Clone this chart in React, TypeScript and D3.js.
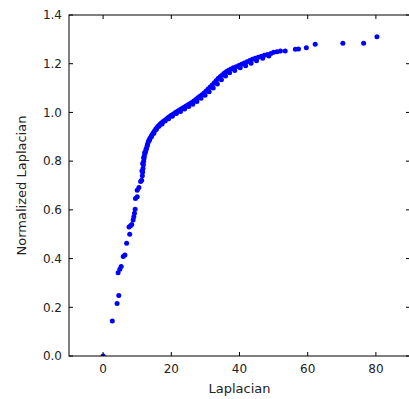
import React from "react";
import * as d3 from "d3";

const W = 409;
const H = 399;

const xTicks = [0, 20, 40, 60, 80];
const yTicks = [0.0, 0.2, 0.4, 0.6, 0.8, 1.0, 1.2, 1.4];

// sparse low section (Laplacian, Normalized Laplacian)
const lowX = [0, 2.7, 4.1, 4.6, 4.4, 4.9, 5.3, 5.9, 6.4, 6.9, 7.8, 7.6, 8.05, 8.4, 8.8, 9.0, 9.2, 9.4, 9.5, 10.0, 10.0, 10.5, 11.0, 11.3];
const lowY = [0, 0.144, 0.216, 0.248, 0.342, 0.356, 0.367, 0.408, 0.415, 0.463, 0.5, 0.53, 0.535, 0.54, 0.558, 0.572, 0.586, 0.602, 0.647, 0.654, 0.681, 0.692, 0.716, 0.722];

// dense middle section
const midX = [11.5, 11.6, 11.7, 11.8, 11.9, 12.0, 12.1, 12.3, 12.5, 12.7, 12.9, 13.1, 13.3, 13.5, 13.8, 14.1, 14.4, 14.7, 15.0, 15.4, 15.8, 16.2, 16.6, 17.0, 17.5, 18.0, 18.5, 19.0, 19.5, 20.0, 20.6, 21.2, 21.8, 22.4, 23.0, 23.6, 24.2, 24.8, 25.4, 26.0, 26.6, 27.2, 27.8, 28.4, 29.0, 29.6, 30.2, 30.8, 31.4, 32.0, 32.6, 33.2, 33.8, 34.4, 35.0, 35.6, 36.2, 36.8, 37.5, 38.2, 39.0, 39.8, 40.6, 41.4, 42.2, 43.0, 43.8, 44.6, 45.5, 46.4, 47.3, 48.2, 49.2, 50.0];
const midY = [0.74, 0.755, 0.77, 0.785, 0.8, 0.812, 0.822, 0.832, 0.842, 0.852, 0.862, 0.872, 0.881, 0.888, 0.895, 0.902, 0.909, 0.916, 0.923, 0.931, 0.938, 0.944, 0.95, 0.956, 0.962, 0.967, 0.972, 0.978, 0.983, 0.988, 0.994, 1.0, 1.005, 1.01, 1.015, 1.02, 1.025, 1.03, 1.036, 1.041, 1.047, 1.053, 1.06, 1.066, 1.073, 1.08, 1.088, 1.096, 1.104, 1.113, 1.122, 1.131, 1.14, 1.148, 1.155, 1.162, 1.168, 1.173, 1.178, 1.183, 1.188, 1.193, 1.198, 1.203, 1.208, 1.213, 1.218, 1.222, 1.227, 1.231, 1.235, 1.238, 1.242, 1.247];

// second band of the dense section (spread of the scatter)
const mid2X = [11.4, 11.6, 11.9, 12.2, 12.6, 13.0, 13.6, 14.2, 14.9, 15.6, 16.4, 17.3, 18.2, 19.2, 20.3, 21.5, 22.7, 23.9, 25.1, 26.3, 27.5, 28.7, 29.9, 31.1, 32.3, 33.5, 34.7, 35.9, 37.1, 38.6, 40.2, 41.8, 43.4, 45.0, 46.8, 48.6];
const mid2Y = [0.76, 0.79, 0.815, 0.835, 0.85, 0.866, 0.886, 0.9, 0.915, 0.93, 0.943, 0.953, 0.965, 0.974, 0.984, 0.996, 1.004, 1.014, 1.024, 1.034, 1.045, 1.058, 1.071, 1.085, 1.1, 1.117, 1.134, 1.15, 1.163, 1.172, 1.183, 1.192, 1.202, 1.212, 1.222, 1.232];

// sparse upper tail
const highX = [51.0, 52.0, 53.4, 56.4, 57.3, 59.6, 62.2, 70.3, 76.4, 80.3];
const highY = [1.249, 1.252, 1.252, 1.259, 1.26, 1.266, 1.28, 1.284, 1.284, 1.311];

const margin = { left: 69, right: -1, top: 15, bottom: 43 };
const innerW = W - margin.left - margin.right;
const innerH = H - margin.top - margin.bottom;

export default function App() {
  const x = d3.scaleLinear().domain([-10, 90]).range([0, innerW]);
  const y = d3.scaleLinear().domain([0, 1.4]).range([innerH, 0]);

  const pts: [number, number][] = [];
  const push = (xs: number[], ys: number[]) => xs.forEach((v, i) => pts.push([v, ys[i]]));
  push(lowX, lowY);
  push(midX, midY);
  push(mid2X, mid2Y);
  push(highX, highY);

  const font = "'DejaVu Sans', sans-serif";
  const tl = 4;

  return (
    <svg
      width={W}
      height={H}
      style={{ position: "absolute", left: 0, top: 0, background: "#fff" }}
    >
      <defs>
        <clipPath id="clip">
          <rect x={0} y={0} width={innerW} height={innerH} />
        </clipPath>
      </defs>
      <g transform={`translate(${margin.left},${margin.top})`}>
        <g clipPath="url(#clip)">
          {pts.map((p, i) => (
            <circle key={i} cx={x(p[0])} cy={y(p[1])} r={2.5} fill="#0000ff" />
          ))}
        </g>
        {/* ticks */}
        {xTicks.map((t) => (
          <g key={"x" + t}>
            <line x1={x(t)} x2={x(t)} y1={innerH} y2={innerH - tl} stroke="#000" />
            <line x1={x(t)} x2={x(t)} y1={0} y2={tl} stroke="#000" />
            <text
              x={x(t)}
              y={innerH + 17}
              textAnchor="middle"
              fontFamily={font}
              fontSize={12}
              fill="#222"
            >
              {t}
            </text>
          </g>
        ))}
        {yTicks.map((t) => (
          <g key={"y" + t}>
            <line x1={0} x2={tl} y1={y(t)} y2={y(t)} stroke="#000" />
            <line x1={innerW} x2={innerW - tl} y1={y(t)} y2={y(t)} stroke="#000" />
            <text
              x={-7}
              y={y(t)}
              dy="0.36em"
              textAnchor="end"
              fontFamily={font}
              fontSize={12}
              fill="#222"
            >
              {t.toFixed(1)}
            </text>
          </g>
        ))}
        <rect
          x={0}
          y={0}
          width={innerW}
          height={innerH}
          fill="none"
          stroke="#000"
          strokeWidth={1}
        />
        <text
          x={innerW / 2}
          y={innerH + 37}
          textAnchor="middle"
          fontFamily={font}
          fontSize={13}
          fill="#222"
        >
          Laplacian
        </text>
        <text
          transform={`translate(${-margin.left + 26},${innerH / 2}) rotate(-90)`}
          textAnchor="middle"
          fontFamily={font}
          fontSize={13}
          fill="#222"
        >
          Normalized Laplacian
        </text>
      </g>
    </svg>
  );
}
